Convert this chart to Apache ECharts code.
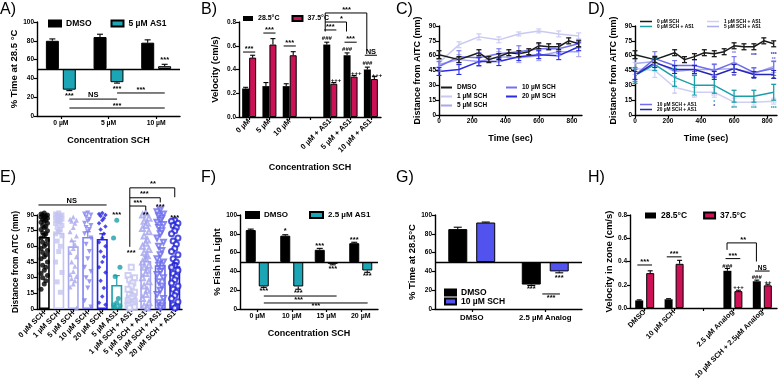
<!DOCTYPE html>
<html><head><meta charset="utf-8">
<script src="https://cdn.jsdelivr.net/npm/echarts@6/dist/echarts.min.js"></script>
<style>
html,body{margin:0;padding:0;background:#fff;}
#wrap{position:relative;width:778px;height:381px;overflow:hidden;background:#fff}
.p{position:absolute;left:0;top:0;width:778px;height:381px}
</style></head><body>
<div id="wrap">
<div class="p" id="cA"></div><div class="p" id="cB"></div><div class="p" id="cC"></div><div class="p" id="cD"></div>
<div class="p" id="cE"></div><div class="p" id="cF"></div><div class="p" id="cG"></div><div class="p" id="cH"></div>
</div>
<script>
// ---------------- DATA ----------------
// A
const aCats = ['0 µM','5 µM','10 µM'];
const aDMSO = [80, 84, 78];
const aDMSOErr = [2, 3, 3];
const aAS1 = [28, 36, 53];
const aAS1Err = [1, 1, 2];
// B
const bCats = ['0 µM','5 µM','10 µM','','0 µM + AS1','5 µM + AS1','10 µM + AS1'];
const b285 = [0.24, 0.26, 0.26, null, 0.61, 0.52, 0.40];
const b285Err = [0.01, 0.03, 0.02, null, 0.02, 0.02, 0.02];
const b375 = [0.50, 0.61, 0.52, null, 0.28, 0.34, 0.32];
const b375Err = [0.02, 0.05, 0.03, null, 0.01, 0.01, 0.02];
// C
const tAll = [0,120,240,300,360,420,480,540,600,660,720,780,840];
const tSub = [0,120,240,360,480,600,720,840];
const cDMSO = [61,56,63,56,59,63,62,64,70,69,69,75,72];
const cDMSOErr = [4,3,3,3,3,3,3,3,3,3,3,3,3];
const c1 = [53,71,79,76,82,85,82,80];
const c1Err = [4,3,3,3,2,2,3,3];
const c5 = [51,56,54,59,58,60,64,64];
const c5Err = [5,5,5,5,5,5,4,5];
const c10 = [49,59,58,62,64,67,67,72];
const c10Err = [5,6,5,5,6,5,5,4];
const c20 = [44,46,54,54,59,61,60,69];
const c20Err = [4,5,4,4,4,4,4,4];
// D
const d0 = [61,56,63,56,59,63,62,64,70,69,69,75,72];
const d0Err = [4,3,3,3,3,3,3,3,3,3,3,3,3];
const dT = [40,51,38,30,30,19,19,23];
const dTErr = [8,6,9,10,8,6,6,8];
const d1 = [47,45,28,23,23,13,13,14];
const d1Err = [6,7,6,5,5,4,3,3];
const d5 = [52,54,44,46,46,47,42,49];
const d5Err = [5,6,5,5,6,6,5,6];
const d10 = [40,57,50,50,45,53,43,47];
const d10Err = [6,7,5,6,6,6,5,7];
const d20 = [40,53,46,46,40,47,41,41];
const d20Err = [4,5,4,4,4,4,3,4];
// E
const eCats = ['0 µM SCH','1 µM SCH','5 µM SCH','10 µM SCH','20 µM SCH','5 µM AS1','1 µM SCH + AS1','5 µM SCH + AS1','10 µM SCH + AS1','20 µM SCH + AS1'];
const eMeans = [69, 73, 60, 69, 67, 23, 14, 46, 42, 41];
const eErr = [3, 2, 5, 5, 5, 9, 2, 4, 4, 3];
const e0 = [92,91,90,90,89,88,88,87,86,85,84,83,82,80,79,78,76,75,73,72,70,68,66,64,62,60,58,56,54,52,50,48,45,42,40,37,34,32,30,27,24,19];
const e1 = [92,91,90,90,89,88,87,86,85,84,83,82,80,78,76,74,72,70,65,60,55,45,35,26,16];
const e2 = [88,86,85,84,82,78,74,70,66,62,58,54,50,45,41,36,33,31,29,27,24,21,1];
const e3 = [92,91,90,88,86,84,82,80,78,76,74,72,68,62,55,48,40,36,30,26,20,8,2];
const e4 = [92,91,90,89,87,85,82,79,76,72,68,64,60,55,50,45,40,35,27,20,12,6,4];
const e5 = [85,68,40,31,10,6,4,3,2];
const e6 = [40,32,30,28,25,22,19,16,14,12,10,8,7,6,5,4,3,2,1];
const e7 = [92,90,87,84,82,80,77,74,70,66,63,60,57,54,51,48,45,42,40,37,34,30,26,22,18,14,10,6,3,1];
const e8 = [95,93,91,89,87,85,83,81,78,75,72,68,64,60,56,52,48,45,42,39,36,33,30,26,22,18,14,10,6,3,1];
const e9 = [85,84,82,80,78,75,72,68,65,62,58,55,52,48,45,42,40,37,34,31,28,25,22,19,16,13,10,7,4,2,1];
// F
const fCats = ['0 µM','10 µM','15 µM','20 µM'];
const fDMSO = [84, 78, 63, 70];
const fDMSOErr = [1, 1, 1.5, 1];
const fAS1 = [24, 24, 48, 41];
const fAS1Err = [1, 3, 1, 2];
// G
const gCats = ['DMSO','2.5 µM Analog'];
const gDMSO = [85, 26];
const gDMSOErr = [2, 1];
const gSCH = [92, 40];
const gSCHErr = [0.5, 1.5];
// H
const hCats = ['DMSO','10 µM SCH','','2.5 µM Analog','10 µM SCH + 2.5µM Analog'];
const h285 = [0.065, 0.075, null, 0.32, 0.23];
const h285Err = [0.005, 0.005, null, 0.02, 0.01];
const h375 = [0.30, 0.38, null, 0.145, 0.195];
const h375Err = [0.02, 0.03, null, 0.008, 0.01];

// ---------------- HELPERS ----------------
const FF = '"Liberation Sans", Arial, Helvetica, sans-serif';
const TEAL = '#1ca5b4', RED = '#cc1156', GBLUE = '#5252ee';
const CK = '#1a1a1a', C1 = '#c9c9f3', C5 = '#a6a6ef', C10 = '#7272ee', C20 = '#2b2be4';
const DT = '#1a9fa9', D1 = '#cfcff4', D5 = '#ababf0', D10 = '#6e6eef', D20 = '#2626b8';

function merge(a,b){ for(const k in b){ if(b[k] && typeof b[k]==='object' && !Array.isArray(b[k]) && a[k] && typeof a[k]==='object' && !Array.isArray(a[k])) merge(a[k],b[k]); else a[k]=b[k]; } return a; }
function tstyle(size){ return {color:'#000', fontFamily:FF, fontWeight:'bold', fontSize:size}; }
function catAxis(cats, o){
  return merge({type:'category', data:cats,
    axisLine:{show:true,onZero:false,lineStyle:{color:'#000',width:1.4}},
    axisTick:{show:true,alignWithLabel:true,length:3,lineStyle:{color:'#000',width:1.2}},
    axisLabel:merge({interval:0,margin:4}, tstyle(6.8)),
    splitLine:{show:false}, nameLocation:'middle', nameTextStyle:tstyle(9)}, o||{});
}
function valAxis(min,max,interval,o){
  return merge({type:'value',min,max,interval,
    axisLine:{show:true,onZero:false,lineStyle:{color:'#000',width:1.4}},
    axisTick:{show:true,length:3,lineStyle:{color:'#000',width:1.2}},
    axisLabel:merge({margin:3}, tstyle(6.5)),
    splitLine:{show:false}, nameLocation:'middle', nameRotate:90, nameTextStyle:tstyle(9.5)}, o||{});
}
function txt(x,y,s,size,color){ return {type:'text', x, y, style:{text:s, fill:color||'#000', font:'bold '+size+'px '+FF, align:'center', verticalAlign:'middle'}}; }
function ln(x1,y1,x2,y2,color,w){ return {type:'line', shape:{x1,y1,x2,y2}, style:{stroke:color||'#000', lineWidth:w||1}}; }
function baseBars(name, vals, base, color, w, gap, stack, withLine){
  const s1 = {type:'bar', name:'', stack, barWidth:w, barGap:gap, silent:true,
    data: vals.map(v=>Math.min(v,base)), itemStyle:{color:'rgba(0,0,0,0)'}, emphasis:{disabled:true}};
  const s2 = {type:'bar', name, stack, barWidth:w, barGap:gap,
    data: vals.map(v=>Math.abs(v-base)), itemStyle:{color, borderColor:'#000', borderWidth:1}, emphasis:{disabled:true}};
  if (withLine) s2.markLine = {silent:true, symbol:'none', label:{show:false}, lineStyle:{color:'#000', width:1.4, type:'solid'}, data:[{yAxis:base}], emphasis:{disabled:true}};
  return [s1, s2];
}
function errBars(xs, vals, errs, dx, base, color, cap, dir, lw){
  return {type:'custom', silent:true, z:4, clip:false,
    renderItem(params, api){
      const x0 = api.value(0), v = api.value(1), e = api.value(2);
      if (isNaN(v)) return null;
      const a = api.coord([x0, v]);
      const kids = [];
      const ends = dir==='both' ? [v+e, v-e] : [v>=base ? v+e : v-e];
      ends.forEach(t=>{ const b = api.coord([x0, t]); const x = a[0]+dx;
        kids.push(ln(x,a[1],x,b[1],color,lw||1.1)); kids.push(ln(x-cap,b[1],x+cap,b[1],color,lw||1.1)); });
      return {type:'group', children:kids};
    },
    data: vals.map((v,i)=> v==null ? [xs[i],'-',0] : [xs[i], v, errs[i]])};
}
function annots(items, isCat, defSize){
  return {type:'custom', silent:true, z:10, clip:false, data: items.map(()=>[0,0]),
    renderItem(params, api){
      const it = items[params.dataIndex];
      const band = isCat ? api.size([1,0])[0] : 0;
      const P = (x,y)=>{ if(isCat){ const i=Math.round(x); const c=api.coord([i,y]); return [c[0]+(x-i)*band, c[1]]; } return api.coord([x,y]); };
      if (it.t !== undefined){ const p=P(it.x,it.y); return txt(p[0],p[1],it.t,it.s||defSize,it.c); }
      const kids=[];
      for(let k=0;k+1<it.l.length;k++){ const a=P(it.l[k][0],it.l[k][1]), b=P(it.l[k+1][0],it.l[k+1][1]); kids.push(ln(a[0],a[1],b[0],b[1],it.c||'#000',1)); }
      return {type:'group', children:kids};
    }};
}
function legend(o){ return merge({padding:0, icon:'rect', selectedMode:false, textStyle:tstyle(8.5)}, o); }
function idx(a){ return a.map((_,i)=>i); }
function render(id, opt){ const c = echarts.init(document.getElementById(id), null, {renderer:'canvas'}); c.setOption(merge({animation:false, textStyle:{fontFamily:FF}}, opt)); }
function letter(s,x,y){ return {type:'text', left:x, top:y, style:{text:s, font:'16px '+FF, fill:'#000'}}; }

// ---------------- A ----------------
const aNotes = [
  {t:'***', x:0.18, y:21}, {t:'***', x:1.18, y:29}, {t:'***', x:2.18, y:60},
  {l:[[0.18,18],[1.18,18]]}, {t:'NS', x:0.68, y:22, s:7.5},
  {l:[[1.18,24.5],[2.18,24.5]]}, {t:'***', x:1.68, y:27.5},
  {l:[[0.18,8.5],[2.18,8.5]]}, {t:'***', x:1.18, y:11}
];
render('cA', {
  graphic: [letter('A)',0,2), letter('B)',201,2), letter('C)',396,2), letter('D)',588,2),
            letter('E)',0,170), letter('F)',201,170), letter('G)',396,170), letter('H)',588,170)],
  grid:{left:37, top:22, width:143, height:94, outerBoundsMode:'none'},
  legend: legend({left:48, top:19, itemWidth:12, itemHeight:6, itemGap:19, data:['DMSO','5 µM AS1']}),
  xAxis: catAxis(aCats, {name:'Concentration SCH', nameGap:20}),
  yAxis: valAxis(0,100,20,{name:'% Time at 28.5 °C', nameGap:18}),
  series: [
    ...baseBars('DMSO', aDMSO, 50, '#000', 13, '30%', 'a', true),
    ...baseBars('5 µM AS1', aAS1, 50, TEAL, 13, '30%', 'b', false),
    errBars(idx(aCats), aDMSO, aDMSOErr, -8.5, 50, '#000', 3),
    errBars(idx(aCats), aAS1, aAS1Err, 8.5, 50, '#000', 3),
    annots(aNotes, true, 7.5)
  ]
});

// ---------------- B ----------------
const bNotes = [
  {l:[[-0.3,0.547],[0.3,0.547]]}, {t:'***', x:0, y:0.575},
  {l:[[0.7,0.707],[1.3,0.707]]}, {t:'***', x:1, y:0.735},
  {l:[[1.7,0.598],[2.3,0.598]]}, {t:'***', x:2, y:0.626},
  {l:[[3.7,0.733],[4.3,0.733]]}, {t:'***', x:4, y:0.76},
  {l:[[4.7,0.63],[5.3,0.63]]}, {t:'***', x:5, y:0.66},
  {l:[[5.7,0.52],[6.3,0.52]]}, {t:'NS', x:6, y:0.55, s:7.5},
  {t:'###', x:3.83, y:0.66, s:6}, {t:'###', x:4.83, y:0.57, s:6}, {t:'###', x:5.83, y:0.45, s:6},
  {t:'+++', x:4.28, y:0.31, s:6}, {t:'+++', x:5.28, y:0.37, s:6}, {t:'+++', x:6.3, y:0.355, s:6},
  {l:[[3.75,0.72],[3.75,0.876],[5.8,0.876],[5.8,0.56]]}, {t:'***', x:4.8, y:0.905},
  {l:[[3.75,0.80],[4.8,0.80],[4.8,0.72]]}, {t:'*', x:4.55, y:0.825}
];
render('cB', {
  grid:{left:239, top:22, width:142, height:95, outerBoundsMode:'none'},
  legend: legend({left:243, top:15, itemWidth:10, itemHeight:5, itemGap:12, textStyle:tstyle(7), data:['28.5°C','37.5°C']}),
  xAxis: catAxis(bCats, {name:'Concentration SCH', nameGap:46, axisLabel:{rotate:45, fontSize:7.5, margin:3}}),
  yAxis: valAxis(0,0.8,0.2,{name:'Velocity (cm/s)', nameGap:19, axisLabel:{formatter:v=>v.toFixed(1)}}),
  series: [
    {type:'bar', name:'28.5°C', data:b285, barWidth:7, barGap:'0%', itemStyle:{color:'#000'}, emphasis:{disabled:true}},
    {type:'bar', name:'37.5°C', data:b375, barWidth:7, barGap:'0%', itemStyle:{color:RED, borderColor:'#000', borderWidth:1}, emphasis:{disabled:true}},
    errBars(idx(bCats), b285, b285Err, -3.5, 0, '#000', 2.5),
    errBars(idx(bCats), b375, b375Err, 3.5, 0, '#000', 2.5),
    annots(bNotes, true, 7.5)
  ]
});

// ---------------- C ----------------
function lineS(name, xs, vals, color){ return {type:'line', name, data: xs.map((x,i)=>[x, vals[i]]), showSymbol:false, symbol:'none', lineStyle:{width:1.5, color}, itemStyle:{color}, emphasis:{disabled:true}}; }
render('cC', {
  grid:{left:439, top:26, width:143, height:89, outerBoundsMode:'none'},
  legend: [
    legend({left:441, top:84, orient:'vertical', itemWidth:11, itemHeight:2, itemGap:2, textStyle:tstyle(6.5), data:['DMSO','1 µM SCH','5 µM SCH']}),
    legend({left:506, top:84, orient:'vertical', itemWidth:11, itemHeight:2, itemGap:2, textStyle:tstyle(6.5), data:['10 µM SCH','20 µM SCH']})
  ],
  xAxis: valAxis(0,860,200,{nameRotate:0, name:'Time (sec)', nameGap:19, nameTextStyle:{fontSize:9}, axisLabel:{showMaxLabel:false, margin:3}}),
  yAxis: valAxis(0,90,15,{name:'Distance from AITC (mm)', nameGap:17, nameTextStyle:{fontSize:9}}),
  series: [
    lineS('1 µM SCH', tSub, c1, C1), lineS('5 µM SCH', tSub, c5, C5), lineS('10 µM SCH', tSub, c10, C10), lineS('20 µM SCH', tSub, c20, C20),
    lineS('DMSO', tAll, cDMSO, CK),
    errBars(tSub, c1, c1Err, 0, 0, C1, 2.5, 'both'),
    errBars(tSub, c5, c5Err, 0, 0, C5, 2.5, 'both'),
    errBars(tSub, c10, c10Err, 0, 0, C10, 2.5, 'both'),
    errBars(tSub, c20, c20Err, 0, 0, C20, 2.5, 'both'),
    errBars(tAll, cDMSO, cDMSOErr, 0, 0, CK, 2.5, 'both', 1.3)
  ]
});

// ---------------- D ----------------
const dNotes = [
  {t:'**', x:600, y:62, c:D10}, {t:'***', x:720, y:60, c:D20}, {t:'***', x:840, y:61, c:D20}, {t:'**', x:840, y:56, c:D10},
  {t:'**', x:600, y:39, c:D20}, {t:'**', x:720, y:36, c:D20}, {t:'**', x:840, y:36, c:D20},
  {t:'**', x:240, y:21, c:D1}, {t:'***', x:360, y:18, c:D1}, {t:'***', x:480, y:19, c:D1},
  {t:'*', x:480, y:13, c:DT}, {t:'*', x:480, y:8, c:D20},
  {t:'***', x:600, y:6, c:DT}, {t:'***', x:720, y:6, c:DT}, {t:'***', x:840, y:6, c:DT}, {t:'***', x:840, y:11, c:D1}
];
render('cD', {
  grid:{left:635, top:26, width:142, height:89, outerBoundsMode:'none'},
  legend: [
    legend({left:640, top:19, orient:'vertical', itemWidth:12, itemHeight:1.5, itemGap:0, textStyle:merge(tstyle(4.8),{lineHeight:4.8}), data:['0 µM SCH','0 µM SCH + AS1']}),
    legend({left:707, top:19, orient:'vertical', itemWidth:12, itemHeight:1.5, itemGap:0, textStyle:merge(tstyle(4.8),{lineHeight:4.8}), data:['1 µM SCH + AS1','5 µM SCH + AS1']}),
    legend({left:640, top:102, orient:'vertical', itemWidth:12, itemHeight:1.5, itemGap:0, textStyle:merge(tstyle(4.8),{lineHeight:4.8}), data:['10 µM SCH + AS1','20 µM SCH + AS1']})
  ],
  xAxis: valAxis(0,860,200,{nameRotate:0, name:'Time (sec)', nameGap:19, nameTextStyle:{fontSize:9}, axisLabel:{showMaxLabel:false, margin:3}}),
  yAxis: valAxis(0,90,15,{name:'Distance from AITC (mm)', nameGap:17, nameTextStyle:{fontSize:9}}),
  series: [
    lineS('1 µM SCH + AS1', tSub, d1, D1), lineS('5 µM SCH + AS1', tSub, d5, D5),
    lineS('0 µM SCH + AS1', tSub, dT, DT),
    lineS('10 µM SCH + AS1', tSub, d10, D10), lineS('20 µM SCH + AS1', tSub, d20, D20),
    lineS('0 µM SCH', tAll, d0, CK),
    errBars(tSub, d1, d1Err, 0, 0, D1, 2.5, 'both'),
    errBars(tSub, d5, d5Err, 0, 0, D5, 2.5, 'both'),
    errBars(tSub, dT, dTErr, 0, 0, DT, 2.5, 'both', 1.3),
    errBars(tSub, d10, d10Err, 0, 0, D10, 2.5, 'both'),
    errBars(tSub, d20, d20Err, 0, 0, D20, 2.5, 'both'),
    errBars(tAll, d0, d0Err, 0, 0, CK, 2.5, 'both', 1.3),
    annots(dNotes, false, 5)
  ]
});

// ---------------- E ----------------
const ePts = [e0,e1,e2,e3,e4,e5,e6,e7,e8,e9];
const eColors = ['#000', '#c4c4f1', '#a9a9ee', '#8282ef', '#2222e0', '#1a9fa9', '#c4c4f1', '#a3a3ef', '#6a6aee', '#2222d8'];
const eSymbols = ['circle','rect','triangle','triangle','diamond','circle','emptyRect','emptyTriangle','emptyTriangle','emptyCircle'];
const eRot = [0,0,0,180,0,0,0,0,180,0];
const jit = [0,-3.2,3.2,-1.6,1.6];
const eScatter = ePts.map((pts,c)=>({type:'scatter', z:5, clip:false, silent:true,
  symbol:eSymbols[c], symbolRotate:eRot[c], symbolSize: c===4?4.5:5,
  itemStyle:{color:eColors[c], borderWidth: eSymbols[c].startsWith('empty')?1:0},
  data: pts.map((v,i)=>({value:[c, v], symbolOffset:[jit[i%5],0]}))}));
const eNotes = [
  {l:[[-0.4,99.6],[4.3,99.6]]}, {t:'NS', x:1.9, y:103.5, s:7.5},
  {t:'***', x:5, y:90}, {t:'***', x:6, y:54}, {t:'**', x:7, y:90}, {t:'***', x:8, y:98}, {t:'***', x:9, y:87},
  {l:[[5.9,59.5],[5.9,116]]},
  {l:[[5.9,98.6],[7,98.6],[7,94.5]]}, {t:'***', x:6.45, y:101.5},
  {l:[[5.9,106.5],[8,106.5],[8,102]]}, {t:'***', x:6.9, y:110},
  {l:[[5.9,116],[9,116],[9,107]]}, {t:'**', x:7.5, y:119.5}
];
render('cE', {
  grid:{left:37, top:215, width:145, height:94, outerBoundsMode:'none'},
  xAxis: catAxis(eCats, {axisLabel:{rotate:45, fontSize:7.5, margin:3}}),
  yAxis: valAxis(0,90,15,{name:'Distance from AITC (mm)', nameGap:17, nameTextStyle:{fontSize:8.5}}),
  series: [
    {type:'bar', name:'mean', barWidth:11, z:2, emphasis:{disabled:true},
     data: eMeans.map((v,i)=>({value:v, itemStyle:{color:'rgba(255,255,255,0)', borderColor:eColors[i], borderWidth:1.6}}))},
    ...eScatter,
    {type:'custom', silent:true, z:6, clip:false,
     renderItem(params, api){ const i=api.value(0), v=api.value(1), e=api.value(2); const a=api.coord([i,v]), b=api.coord([i,v+e]);
       return {type:'group', children:[ln(a[0],a[1],a[0],b[1],eColors[i],1.2), ln(a[0]-3,b[1],a[0]+3,b[1],eColors[i],1.2)]}; },
     data: eMeans.map((v,i)=>[i,v,eErr[i]])},
    annots(eNotes, true, 7.5)
  ]
});

// ---------------- F ----------------
const fNotes = [
  {t:'*', x:0.81, y:83}, {t:'***', x:1.81, y:67.5}, {t:'***', x:2.81, y:74},
  {t:'***', x:0.19, y:19.5}, {t:'***', x:1.19, y:17.5}, {t:'***', x:2.19, y:43}, {t:'***', x:3.19, y:35.5},
  {l:[[0.19,13.8],[2.3,13.8]]}, {t:'***', x:1.2, y:10},
  {l:[[0.19,6.4],[3.2,6.4]]}, {t:'***', x:1.7, y:2.8}
];
render('cF', {
  grid:{left:240, top:215, width:138, height:94, outerBoundsMode:'none'},
  legend: legend({left:245, top:211, itemWidth:13, itemHeight:6, itemGap:21, textStyle:tstyle(8), data:['DMSO','2.5 µM AS1']}),
  xAxis: catAxis(fCats, {name:'Concentration SCH', nameGap:20, axisLabel:{fontSize:7}}),
  yAxis: valAxis(0,100,20,{name:'% Fish in Light', nameGap:18}),
  series: [
    ...baseBars('DMSO', fDMSO, 50, '#000', 10, '30%', 'a', true),
    ...baseBars('2.5 µM AS1', fAS1, 50, TEAL, 10, '30%', 'b', false),
    errBars(idx(fCats), fDMSO, fDMSOErr, -6.5, 50, '#000', 3),
    errBars(idx(fCats), fAS1, fAS1Err, 6.5, 50, '#000', 3),
    annots(fNotes, true, 7.5)
  ]
});

// ---------------- G ----------------
const gNotes = [
  {t:'***', x:0.81, y:21}, {t:'***', x:1.19, y:33.5},
  {l:[[0.96,16],[1.2,16]]}, {t:'***', x:1.08, y:11.5}
];
render('cG', {
  grid:{left:435, top:215, width:147, height:94, outerBoundsMode:'none'},
  legend: legend({left:444, top:288, orient:'vertical', itemWidth:11, itemHeight:6, itemGap:0, textStyle:merge(tstyle(8.5),{lineHeight:9}), data:['DMSO','10 µM SCH']}),
  xAxis: catAxis(gCats, {axisLabel:{fontSize:7.8, margin:5}}),
  yAxis: valAxis(0,100,20,{name:'% Time at 28.5°C', nameGap:15}),
  series: [
    ...baseBars('DMSO', gDMSO, 50, '#000', 19, '47%', 'a', true),
    ...baseBars('10 µM SCH', gSCH, 50, GBLUE, 19, '47%', 'b', false),
    errBars(idx(gCats), gDMSO, gDMSOErr, -14, 50, '#000', 4),
    errBars(idx(gCats), gSCH, gSCHErr, 14, 50, '#000', 4),
    annots(gNotes, true, 7.5)
  ]
});

// ---------------- H ----------------
const hNotes = [
  {l:[[-0.25,0.37],[0.25,0.37]]}, {t:'***', x:0, y:0.395},
  {l:[[0.75,0.44],[1.25,0.44]]}, {t:'***', x:1, y:0.465},
  {l:[[2.75,0.425],[3.25,0.425]]}, {t:'***', x:3, y:0.45},
  {t:'###', x:2.81, y:0.36, s:6}, {t:'+++', x:3.19, y:0.18, s:6},
  {l:[[2.8,0.50],[2.8,0.56],[3.8,0.56],[3.8,0.40]]}, {t:'**', x:3.35, y:0.585},
  {l:[[3.75,0.318],[4.25,0.318]]}, {t:'NS', x:4, y:0.345, s:6.5},
  {t:'###', x:3.81, y:0.265, s:6}, {t:'++', x:4.19, y:0.225, s:6}
];
render('cH', {
  grid:{left:630, top:215, width:147, height:93, outerBoundsMode:'none'},
  legend: legend({left:645, top:211, itemWidth:11, itemHeight:6, itemGap:16, data:['28.5°C','37.5°C']}),
  xAxis: catAxis(hCats, {axisLabel:{rotate:45, fontSize:7.3, margin:3}}),
  yAxis: valAxis(0,0.8,0.2,{name:'Velocity in zone (cm/s)', nameGap:15, axisLabel:{formatter:v=>v.toFixed(1)}}),
  series: [
    {type:'bar', name:'28.5°C', data:h285, barWidth:8, barGap:'37.5%', itemStyle:{color:'#000'}, emphasis:{disabled:true}},
    {type:'bar', name:'37.5°C', data:h375, barWidth:8, barGap:'37.5%', itemStyle:{color:RED, borderColor:'#000', borderWidth:1}, emphasis:{disabled:true}},
    errBars(idx(hCats), h285, h285Err, -5.5, 0, '#000', 2.5),
    errBars(idx(hCats), h375, h375Err, 5.5, 0, '#000', 2.5),
    annots(hNotes, true, 7.5)
  ]
});
</script>
</body></html>
